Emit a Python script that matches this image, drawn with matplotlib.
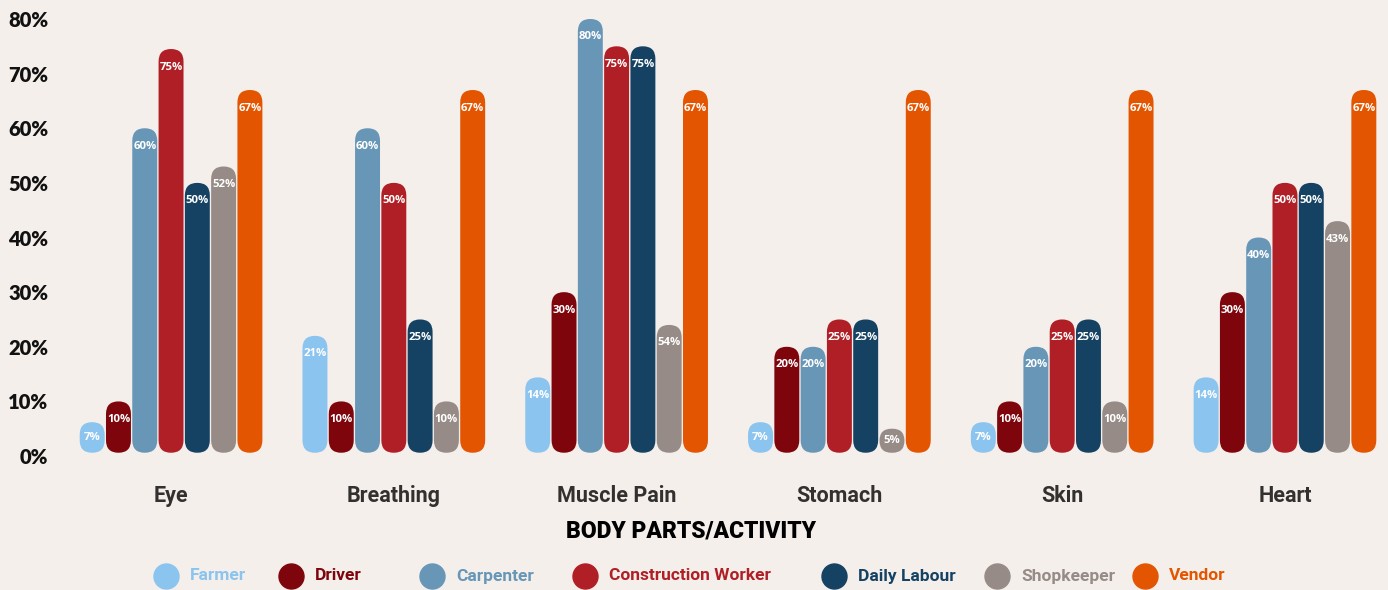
import matplotlib
matplotlib.use('Agg')
import matplotlib.pyplot as plt
from matplotlib.patches import FancyBboxPatch
import numpy as np

categories = ['Eye', 'Breathing', 'Muscle Pain', 'Stomach', 'Skin', 'Heart']
series_names = ['Farmer', 'Driver', 'Carpenter', 'Construction Worker',
                'Daily Labour', 'Shopkeeper', 'Vendor']

farmer = [6.2, 22, 14.4, 6.2, 6.2, 14.4]
driver = [10, 10, 30, 20, 10, 30]
carpenter = [60, 60, 80, 20, 20, 40]
construction = [74.5, 50, 75, 25, 25, 50]
daily_labour = [50, 25, 75, 25, 25, 50]
shopkeeper = [53, 10, 24, 5, 10, 43]
vendor = [67, 67, 67, 67, 67, 67]

farmer_labels = ['7%', '21%', '14%', '7%', '7%', '14%']
driver_labels = ['10%', '10%', '30%', '20%', '10%', '30%']
carpenter_labels = ['60%', '60%', '80%', '20%', '20%', '40%']
construction_labels = ['75%', '50%', '75%', '25%', '25%', '50%']
daily_labour_labels = ['50%', '25%', '75%', '25%', '25%', '50%']
shopkeeper_labels = ['52%', '10%', '54%', '5%', '10%', '43%']
vendor_labels = ['67%', '67%', '67%', '67%', '67%', '67%']

values = [farmer, driver, carpenter, construction, daily_labour, shopkeeper, vendor]
labels = [farmer_labels, driver_labels, carpenter_labels, construction_labels,
          daily_labour_labels, shopkeeper_labels, vendor_labels]
colors = ['#8AC4EF', '#7E050C', '#6796B7', '#B01F25', '#154263', '#968B86', '#E35500']
y_ticks = [0, 10, 20, 30, 40, 50, 60, 70, 80]

bg = '#F4EFEB'
cond = ['Roboto', 'DejaVu Sans']

W, H = 1388, 590
fig = plt.figure(figsize=(W / 100, H / 100), dpi=100)
fig.patch.set_facecolor(bg)
ax = fig.add_axes([65 / W, 128.5 / H, 1320 / W, 448 / H])
ax.set_facecolor(bg)
ax.set_xlim(-0.476, 5.449)
ax.set_ylim(-1, 81)

# pixels per data unit, used to keep the bar caps round
px_x = 1320 / (5.449 + 0.476)
px_y = 448 / 82
asp = px_x / px_y

step = 0.118
width = 0.112
base = 0.6
for j, (vals, labs, col) in enumerate(zip(values, labels, colors)):
    for i, (v, lab) in enumerate(zip(vals, labs)):
        x = i + (j - 3) * step
        h = v - base
        r = min(width / 2, h / asp / 2)
        ax.add_patch(FancyBboxPatch((x - width / 2, base), width, h,
                                    boxstyle=f'round,pad=0,rounding_size={r}',
                                    mutation_aspect=asp, facecolor=col,
                                    edgecolor='none'))
        ly = max(v - 3.3, (v + base) / 2)
        ax.text(x, ly, lab, ha='center', va='center', color='white',
                fontsize=8.2, fontweight='bold', family=['Open Sans', 'DejaVu Sans'])

ax.set_yticks(y_ticks)
ax.set_yticklabels([f'{t}%' for t in y_ticks], fontsize=14.5, fontweight='heavy',
                   family=['Lato', 'DejaVu Sans'], color='#111111')
ax.set_xticks(np.arange(len(categories)))
ax.set_xticklabels(categories, fontsize=15.5, fontweight='bold', family=cond,
                   color='#333030')
ax.tick_params(axis='y', length=0, pad=12)
ax.tick_params(axis='x', length=0, pad=17)
for s in ax.spines.values():
    s.set_visible(False)

fig.text(691 / W, 1 - 531 / H, 'BODY PARTS/ACTIVITY', ha='center', va='center',
         fontsize=16.5, fontweight='heavy', family=cond, color='black')

legend_x = [166, 291, 432, 585, 834, 997, 1145]
ly = 1 - 576 / H
for xp, name, col in zip(legend_x, series_names, colors):
    ax.plot([xp / W], [ly], 'o', ms=18, color=col, transform=fig.transFigure,
            clip_on=False)
    fig.text((xp + 24) / W, ly, name, ha='left', va='center', fontsize=12.5,
             fontweight='bold', family=cond, color=col)

fig.savefig('out.png', dpi=100, facecolor=bg)
